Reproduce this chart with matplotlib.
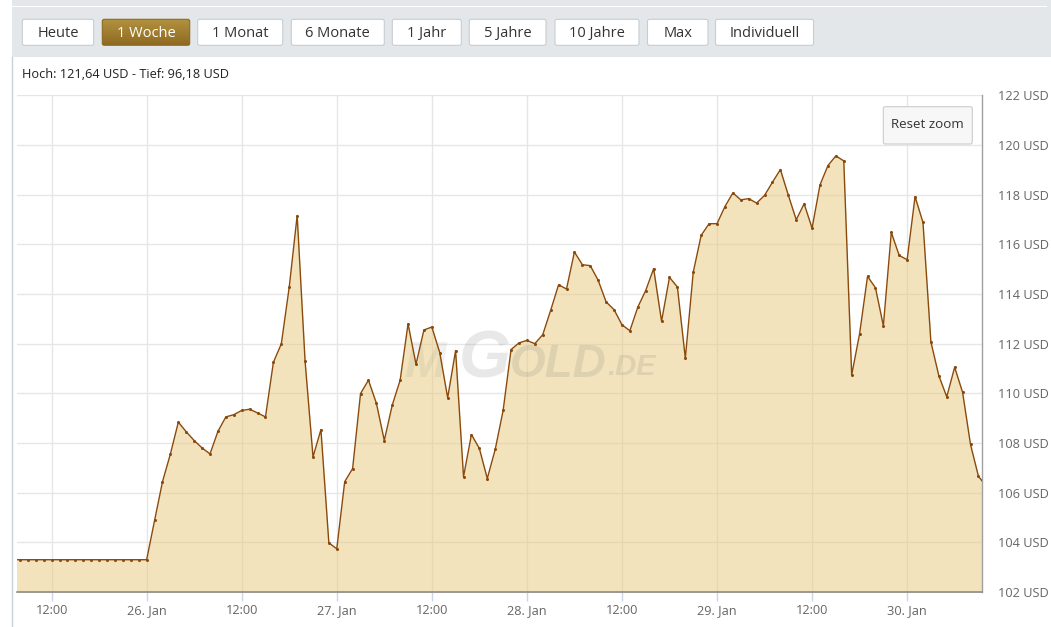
import matplotlib
matplotlib.use('Agg')
import matplotlib.pyplot as plt
import matplotlib.dates as mdates
from matplotlib.patches import FancyBboxPatch, Rectangle
import numpy as np
import pandas as pd

# ---------------- data ----------------
start_time = '2025-01-25 07:00'   # hourly prices
prices_25jan = [103.30, 103.30, 103.30, 103.30, 103.30, 103.30, 103.30, 103.30, 103.30,
                103.30, 103.30, 103.30, 103.30, 103.30, 103.30, 103.30, 103.30]
prices_26jan = [103.30, 104.88, 106.44, 107.56, 108.84, 108.45, 108.10, 107.80, 107.56,
                108.47, 109.05, 109.14, 109.31, 109.36, 109.21, 109.05, 111.25, 111.99,
                114.28, 117.16, 111.29, 107.44, 108.54, 103.98]
prices_27jan = [103.74, 106.44, 106.97, 109.99, 110.53, 109.60, 108.10, 109.52, 110.53,
                112.80, 111.17, 112.55, 112.67, 111.64, 109.82, 111.72, 106.64, 108.34,
                107.78, 106.57, 107.74, 109.31, 111.76, 112.03]
prices_28jan = [112.13, 112.00, 112.36, 113.34, 114.37, 114.20, 115.69, 115.18, 115.14,
                114.55, 113.68, 113.37, 112.76, 112.52, 113.47, 114.14, 115.02, 112.90,
                114.67, 114.28, 111.41, 114.88, 116.36, 116.83]
prices_29jan = [116.83, 117.52, 118.07, 117.79, 117.84, 117.66, 117.97, 118.50, 119.01,
                117.98, 116.99, 117.63, 116.65, 118.39, 119.17, 119.56, 119.36, 110.74,
                112.40, 114.71, 114.25, 112.72, 116.48, 115.55]
prices_30jan = [115.38, 117.92, 116.88, 112.07, 110.71, 109.86, 111.05, 110.04, 107.94,
                106.66, 106.25]

tick_times = ['2025-01-25 12:00', '2025-01-26 00:00', '2025-01-26 12:00', '2025-01-27 00:00',
              '2025-01-27 12:00', '2025-01-28 00:00', '2025-01-28 12:00', '2025-01-29 00:00',
              '2025-01-29 12:00', '2025-01-30 00:00']
tick_labels = ['12:00', '26. Jan', '12:00', '27. Jan', '12:00', '28. Jan', '12:00',
               '29. Jan', '12:00', '30. Jan']
y_ticks = [102, 104, 106, 108, 110, 112, 114, 116, 118, 120, 122]
y_tick_labels = ['102 USD', '104 USD', '106 USD', '108 USD', '110 USD', '112 USD',
                 '114 USD', '116 USD', '118 USD', '120 USD', '122 USD']
x_range = ['2025-01-25 07:38', '2025-01-30 09:27']
y_range = [102, 122]

buttons = ['Heute', '1 Woche', '1 Monat', '6 Monate', '1 Jahr', '5 Jahre', '10 Jahre',
           'Max', 'Individuell']
active_button = '1 Woche'
info_text = 'Hoch: 121,64 USD - Tief: 96,18 USD'
reset_label = 'Reset zoom'

prices = prices_25jan + prices_26jan + prices_27jan + prices_28jan + prices_29jan + prices_30jan
times = pd.date_range(start_time, periods=len(prices), freq='h')

# ---------------- figure ----------------
plt.rcParams['font.family'] = ['Open Sans', 'DejaVu Sans']
W, H = 1051, 627
fig = plt.figure(figsize=(W / 100, H / 100), dpi=100)
fig.patch.set_facecolor('white')

# background / header layer in pixel coordinates
bg = fig.add_axes([0, 0, 1, 1], zorder=0)
bg.set_xlim(0, W)
bg.set_ylim(H, 0)
bg.axis('off')

bg.add_patch(Rectangle((12, 0), W - 12, 57, facecolor='#e3e7ea', edgecolor='none'))
bg.add_patch(Rectangle((12, 5.5), W - 16, 1.8, facecolor='white', edgecolor='none'))
bg.plot([11.7, 11.7], [57, H], color='#c9d1da', lw=1.0)

btn_x = [(22.3, 93.7), (102.3, 189.7), (197.7, 282.7), (291.3, 384.3), (392.3, 461.3),
         (469.3, 546.0), (555.0, 639.0), (647.5, 708.0), (715.5, 813.5)]
by0, by1 = 19.3, 45.3
for label, (x0, x1) in zip(buttons, btn_x):
    if label == active_button:
        patch = FancyBboxPatch((x0, by0), x1 - x0, by1 - by0,
                               boxstyle='round,pad=0,rounding_size=2',
                               facecolor='none', edgecolor='#8a6a20', lw=0.8, zorder=3)
        bg.add_patch(patch)
        grad = np.linspace(0, 1, 50)[:, None]
        c_top = np.array([0.70, 0.57, 0.25])
        c_bot = np.array([0.56, 0.42, 0.13])
        img = c_top[None, None, :] * (1 - grad[:, :, None]) + c_bot[None, None, :] * grad[:, :, None]
        im = bg.imshow(img, extent=(x0, x1, by1, by0), aspect='auto', origin='upper', zorder=2)
        im.set_clip_path(patch)
        tcolor = 'white'
    else:
        bg.add_patch(FancyBboxPatch((x0, by0), x1 - x0, by1 - by0,
                                    boxstyle='round,pad=0,rounding_size=2',
                                    facecolor='white', edgecolor='#c5cdd5', lw=0.8, zorder=2))
        tcolor = '#333333'
    bg.text((x0 + x1) / 2, (by0 + by1) / 2 + 1.0, label, ha='center', va='center',
            fontsize=10.5, color=tcolor, zorder=4)

bg.text(22, 75, info_text, ha='left', va='center', fontsize=9.2, color='#222222')

# ---------------- chart ----------------
pl, pr, pt, pb = 17, 982, 95.3, 592
ax = fig.add_axes([pl / W, 1 - pb / H, (pr - pl) / W, (pb - pt) / H], zorder=1)
ax.set_facecolor('white')

ax.fill_between(times, prices, y_range[0] - 5, color='#e7c97b', alpha=0.5, lw=0, zorder=2)
ax.plot(times, prices, color='#8a4a0c', lw=1.0, marker='o', markersize=2.2,
        markeredgewidth=0, zorder=4)

ax.set_xlim(pd.Timestamp(x_range[0]), pd.Timestamp(x_range[1]))
ax.set_ylim(*y_range)

ax.set_xticks([mdates.date2num(pd.Timestamp(t)) for t in tick_times])
ax.set_xticklabels(tick_labels)
ax.set_yticks(y_ticks)
ax.set_yticklabels(y_tick_labels)
ax.yaxis.tick_right()

ax.grid(True, color='#e6e6e6', lw=1.0, zorder=0)
ax.set_axisbelow(True)

ax.tick_params(axis='x', colors='#ccd6eb', length=6.5, width=1, pad=2,
               labelcolor='#666666', labelsize=9.2)
ax.tick_params(axis='y', length=0, pad=11.5, labelcolor='#666666', labelsize=9.2)

for s in ['top', 'left']:
    ax.spines[s].set_visible(False)
ax.spines['bottom'].set_color('#8c8c8c')
ax.spines['bottom'].set_linewidth(1.2)
ax.spines['right'].set_color('#a0a0a0')
ax.spines['right'].set_linewidth(1.0)

# watermark (pixel coordinates through bg transform)
wm = dict(color='#7a7a7a', alpha=0.17, fontfamily='Liberation Sans', fontweight='bold',
          fontstyle='italic', transform=bg.transData, zorder=3, va='baseline', ha='left',
          clip_on=False)
ax.text(404, 377, 'M', fontsize=36, **dict(wm, alpha=0.10))
ax.text(459, 377, 'G', fontsize=48, **wm)
ax.text(510, 377, 'OLD', fontsize=33, **wm)
ax.text(607, 375, '.DE', fontsize=21, **wm)

# reset zoom button on top
top = fig.add_axes([0, 0, 1, 1], zorder=3)
top.set_xlim(0, W)
top.set_ylim(H, 0)
top.axis('off')
top.patch.set_alpha(0)
top.add_patch(FancyBboxPatch((883.3, 106.7), 89, 37.3, boxstyle='round,pad=0,rounding_size=2',
                             facecolor='#f7f7f7', edgecolor='#cccccc', lw=0.8))
top.text(927.8, 125, reset_label, ha='center', va='center', fontsize=9.6, color='#333333')

fig.savefig('out.png', dpi=100)
